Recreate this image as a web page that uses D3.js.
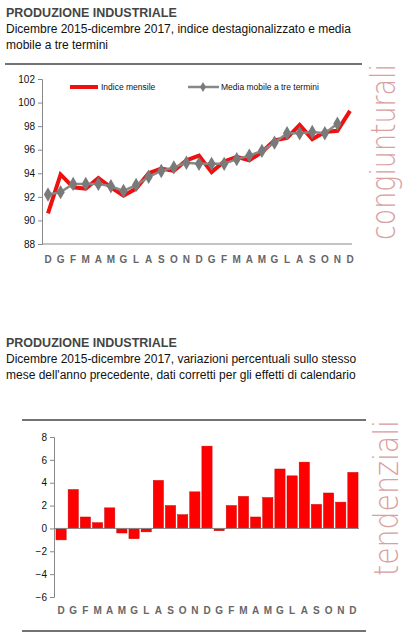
<!DOCTYPE html>
<html><head><meta charset="utf-8">
<script src="https://cdn.jsdelivr.net/npm/d3@7"></script>
<style>body{margin:0;background:#fff}</style>
</head><body>
<svg id="c" width="410" height="641"></svg>
<script>
// month labels, Dec 2015 - Dec 2017
const MONTHS = ["D","G","F","M","A","M","G","L","A","S","O","N","D","G","F","M","A","M","G","L","A","S","O","N","D"];
const INDICE = [90.6,93.9,92.8,92.7,93.6,92.8,92.1,92.7,94.0,94.4,94.2,95.1,95.5,94.1,95.0,95.4,95.1,95.8,96.8,97.0,98.1,96.9,97.5,97.6,99.3];
const MEDIA = [92.2,92.4,93.1,93.1,93.1,92.9,92.5,93.0,93.7,94.2,94.5,94.9,94.8,94.8,94.8,95.2,95.5,95.9,96.6,97.4,97.4,97.5,97.4,98.2];
const TENDENZIALI = [-1.0,3.4,1.0,0.5,1.8,-0.4,-0.9,-0.3,4.2,2.0,1.2,3.2,7.2,-0.2,2.0,2.8,1.0,2.7,5.2,4.6,5.8,2.1,3.1,2.3,4.9];
const Y1_TICKS = [88,90,92,94,96,98,100,102];
const Y2_TICKS = [-6,-4,-2,0,2,4,6,8];

const svg = d3.select("#c");
const F = "Liberation Sans, Arial, sans-serif";
const idx = d3.range(MONTHS.length);

function header(y, lines) {
  svg.append("text").attr("x",6).attr("y",y).attr("font-family",F).attr("font-weight","bold")
    .attr("font-size",12.5).attr("fill","#444").text("PRODUZIONE INDUSTRIALE");
  lines.forEach((l,i) => svg.append("text").attr("x",6).attr("y",y+16*(i+1)).attr("font-family",F)
    .attr("font-size",12).attr("fill","#111").text(l));
}
function sideLabel(x, y, t, len) {
  svg.append("text").attr("transform",`translate(${x},${y}) rotate(-90)`).attr("font-family","DejaVu Sans, sans-serif")
    .attr("font-weight",200).attr("font-size",34).attr("fill","#d9a0a0")
    .attr("textLength",len).attr("lengthAdjust","spacingAndGlyphs").text(t);
}
function rule(x1, x2, y) {
  svg.append("line").attr("x1",x1).attr("x2",x2).attr("y1",y).attr("y2",y).attr("stroke","#444").attr("stroke-width",1.5);
}
function yAxis(g, y, ticks, x) {
  g.append("g").attr("transform",`translate(${x},0)`)
    .call(d3.axisLeft(y).tickValues(ticks).tickSize(4).tickPadding(3))
    .call(a => { a.selectAll("path,line").attr("stroke","#888");
      a.selectAll("text").attr("font-family",F).attr("font-size",10).attr("fill","#111"); });
}
function xLabels(x, y) {
  svg.append("g").selectAll("text").data(MONTHS).join("text")
    .attr("x",(d,i)=>x(i)).attr("y",y).attr("text-anchor","middle").attr("font-family",F)
    .attr("font-weight","bold").attr("font-size",10).attr("fill","#666").text(d=>d);
}

// top chart
header(17, ["Dicembre 2015-dicembre 2017, indice destagionalizzato e media","mobile a tre termini"]);
rule(5, 362, 64);
sideLabel(395, 240, "congiunturali", 176);
const x1 = d3.scalePoint().domain(idx).range([48,350]);
const y1 = d3.scaleLinear().domain([88,102]).range([244,79]);
svg.append("line").attr("x1",42).attr("x2",352).attr("y1",y1(88)).attr("y2",y1(88)).attr("stroke","#888");
yAxis(svg, y1, Y1_TICKS, 42);
svg.append("path").datum(INDICE).attr("fill","none").attr("stroke","#ee1111").attr("stroke-width",4)
  .attr("d", d3.line().x((d,i)=>x1(i)).y(d=>y1(d)));
svg.append("path").datum(MEDIA).attr("fill","none").attr("stroke","#888").attr("stroke-width",2.5)
  .attr("d", d3.line().x((d,i)=>x1(i)).y(d=>y1(d)));
const diamond = d3.symbol().type(d3.symbolDiamond).size(60);
svg.append("g").selectAll("path").data(MEDIA).join("path")
  .attr("transform",(d,i)=>`translate(${x1(i)},${y1(d)})`).attr("d",diamond).attr("fill","#7a7a7a");
xLabels(x1, 263);
// legend
svg.append("line").attr("x1",70).attr("x2",98).attr("y1",87).attr("y2",87).attr("stroke","#ee1111").attr("stroke-width",4);
svg.append("text").attr("x",101).attr("y",90).attr("font-family",F).attr("font-size",8.5).attr("fill","#111").text("Indice mensile");
svg.append("line").attr("x1",188).attr("x2",219).attr("y1",87).attr("y2",87).attr("stroke","#888").attr("stroke-width",2.5);
svg.append("path").attr("transform","translate(203,87)").attr("d",d3.symbol().type(d3.symbolDiamond).size(30)).attr("fill","#7a7a7a");
svg.append("text").attr("x",221).attr("y",90).attr("font-family",F).attr("font-size",8.5).attr("fill","#111").text("Media mobile a tre termini");

// bottom chart
header(347, ["Dicembre 2015-dicembre 2017, variazioni percentuali sullo stesso","mese dell'anno precedente, dati corretti per gli effetti di calendario"]);
rule(22, 366, 420);
rule(22, 366, 631);
sideLabel(398, 576, "tendenziali", 156);
const x2 = d3.scaleBand().domain(idx).range([55,359]).paddingInner(0.16).paddingOuter(0.08);
const y2 = d3.scaleLinear().domain([-6,8]).range([597,437]);
yAxis(svg, y2, Y2_TICKS, 54);
svg.append("g").selectAll("rect").data(TENDENZIALI).join("rect")
  .attr("x",(d,i)=>x2(i)).attr("width",x2.bandwidth())
  .attr("y",d=>y2(Math.max(0,d))).attr("height",d=>Math.abs(y2(d)-y2(0)))
  .attr("fill","#ff0000").attr("stroke","#c00").attr("stroke-width",0.5);
svg.append("line").attr("x1",54).attr("x2",359).attr("y1",y2(0)).attr("y2",y2(0)).attr("stroke","#888");
xLabels(i => x2(i)+x2.bandwidth()/2, 614);
</script>
</body></html>
